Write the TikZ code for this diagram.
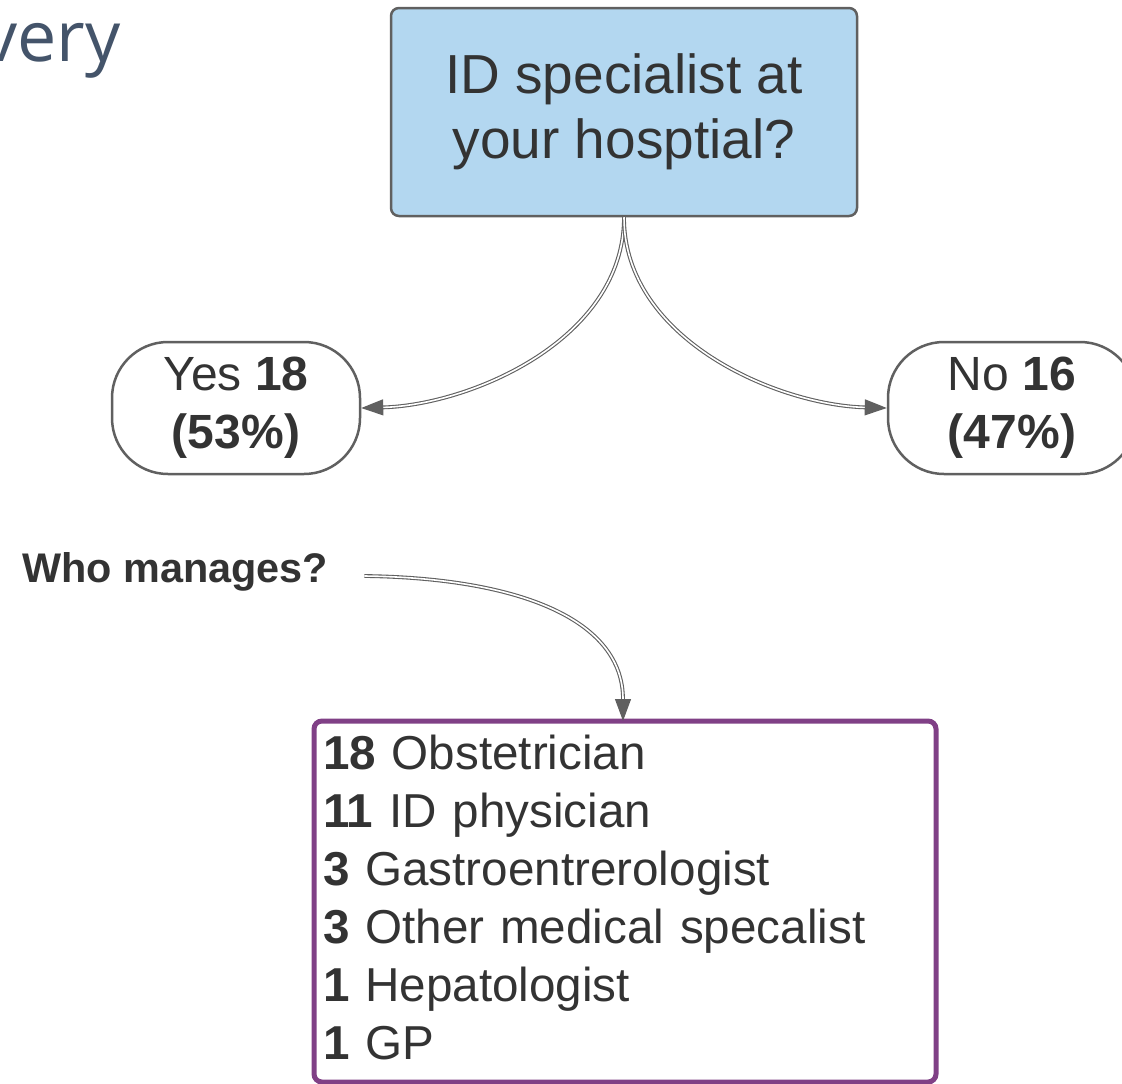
\documentclass[tikz,border=0pt]{standalone}
\usepackage{fontspec}
\setmainfont{Liberation Sans}
\newfontfamily\titlefont{Open Sans}
\usepackage{tikz}
\usetikzlibrary{arrows.meta}
\definecolor{boxblue}{RGB}{179,215,240}
\definecolor{edgegray}{RGB}{96,96,96}
\definecolor{listpurple}{RGB}{128,64,134}
\definecolor{textgray}{RGB}{51,51,51}
\definecolor{titleslate}{RGB}{68,84,106}

\tikzset{
  question/.style={draw=edgegray, line width=2.5pt, fill=boxblue, rounded corners=8pt,
    minimum width=466pt, minimum height=208pt, align=center, text=textgray,
    font=\fontsize{55}{65}\selectfont},
  answer/.style={draw=edgegray, line width=2.5pt, fill=white, rounded corners=56pt,
    minimum width=248pt, minimum height=132pt, align=center, text=textgray,
    font=\fontsize{48}{58}\selectfont},
  roles/.style={draw=listpurple, line width=5pt, rounded corners=8pt, anchor=north west,
    outer sep=0pt, minimum height=361pt, text width=604pt, inner xsep=9pt, align=left,
    text=textgray, font=\fontsize{47.6}{58}\selectfont},
  link/.style={draw=edgegray, line width=1.1pt, double=white, double distance=1.6pt,
    -{Triangle[length=22pt,width=16pt,fill=edgegray]}},
}

\begin{document}
\begin{tikzpicture}[x=1pt, y=-1pt]

  \useasboundingbox (0,0) rectangle (1122,1084);

  %% slide title, cut at the left edge
  \node[anchor=base east, inner sep=0, text=titleslate,
    font=\titlefont\fontsize{70}{80}\selectfont] (title) at (121,61) {very};

  \node[question] (idq) at (624,112) {ID specialist at\\your hosptial?};

  \node[answer] (yes) at (236,408) {Yes \textbf{18}\\\textbf{(53\%)}};
  \node[answer] (no) at (1012,408) {No \textbf{16}\\\textbf{(47\%)}};

  \node[anchor=west, inner sep=0, text=textgray,
    font=\bfseries\fontsize{41.4}{48}\selectfont] (who) at (22,572) {Who manages?};

  \node[roles] (list) at (314,721) {%
    \textbf{18} Obstetrician\\
    \textbf{11} ID physician\\
    \textbf{3} Gastroentrerologist\\
    \textbf{3} Other medical specalist\\
    \textbf{1} Hepatologist\\
    \textbf{1} GP\rule[-8pt]{0pt}{0pt}};

  %% yes / no branches
  \draw[link] (idq.south) .. controls (624,340) and (470,405) .. (yes.east);
  \draw[link] (idq.south) .. controls (624,340) and (778,405) .. (no.west);

  %% who manages
  \draw[link] ([xshift=36pt,yshift=-4pt]who.east) .. controls (520,578) and (623,620) .. (list.north -| 623,0);

\end{tikzpicture}
\end{document}
